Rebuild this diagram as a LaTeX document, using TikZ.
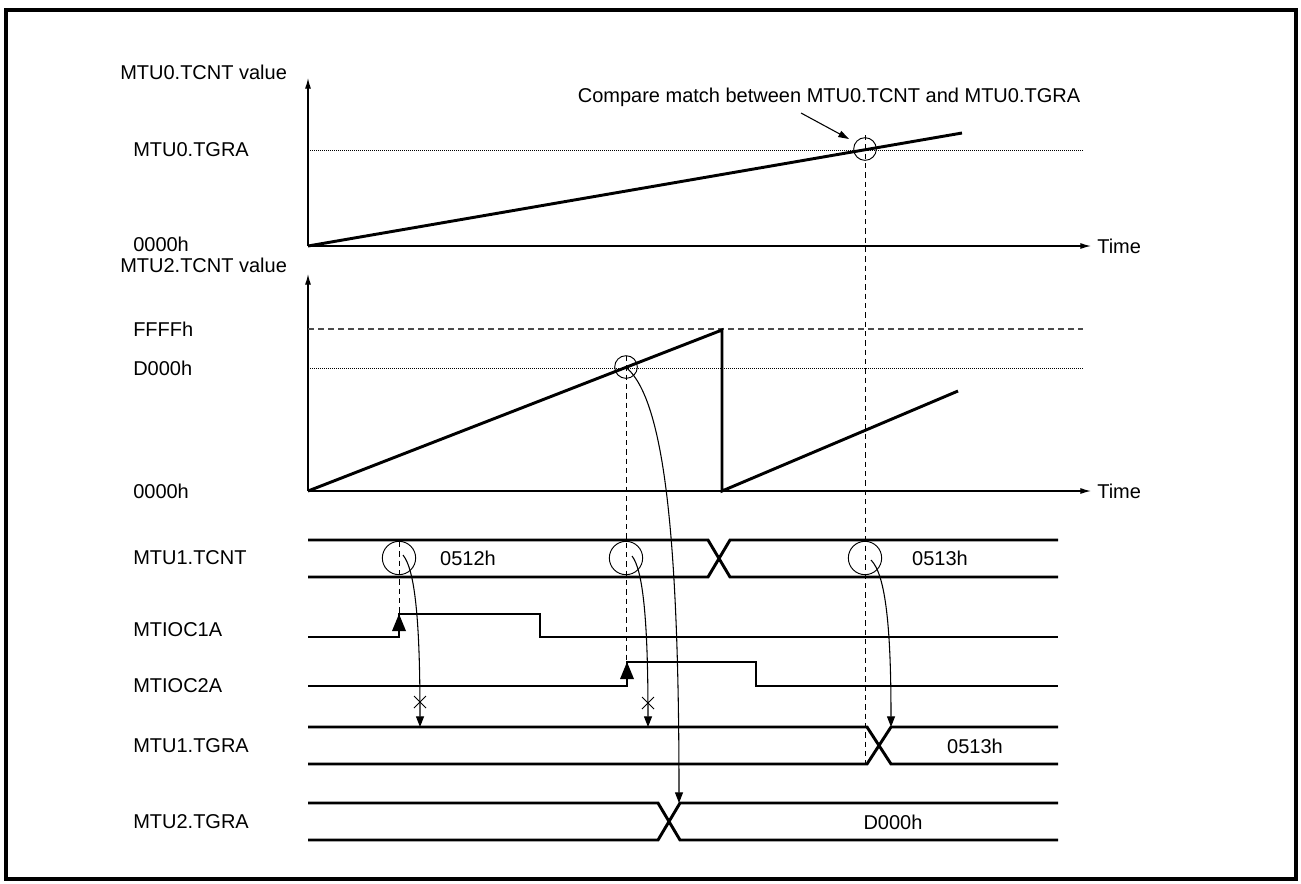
\documentclass[tikz,border=0pt]{standalone}
\usepackage{fontspec}
\setmainfont{Liberation Sans}
\usetikzlibrary{arrows.meta}
\begin{document}
\begin{tikzpicture}[x=0.75pt,y=-0.75pt,
  lbl/.style={anchor=west,inner sep=0pt,font=\fontsize{15}{18}\selectfont},
  val/.style={inner sep=0pt,font=\fontsize{15}{18}\selectfont},
  sig/.style={line width=2.2pt,line join=miter},
  axisline/.style={line width=0.9pt,-{Latex[length=8pt,width=4.5pt]}},
  dotline/.style={line width=0.7pt,dash pattern=on 0.7pt off 0.8pt},
  dashline/.style={line width=0.9pt,draw=black!70,dash pattern=on 4.5pt off 3pt},
  vdash/.style={line width=0.7pt,dash pattern=on 4pt off 3pt},
  ring/.style={draw,circle,line width=0.7pt,inner sep=0pt},
  flow/.style={line width=0.8pt,-{Triangle[length=8pt,width=6pt]}},
  xcross/.style={line width=0.7pt}
]
\useasboundingbox (0,0) rectangle (1301,883);
\draw[line width=2.4pt] (6,10) rectangle (1296,879);

% ---------- top chart ----------
\node[lbl] (l0v) at (120,72) {MTU0.TCNT value};
\node[lbl] (l0tgra) at (133,150) {MTU0.TGRA};
\node[lbl] (l0zero) at (133,244) {0000h};
\coordinate (o1) at (308,246);
\coordinate (y1) at (308,78);
\coordinate (t1) at (1091,246);
\draw[axisline] (o1) -- (y1);
\draw[axisline] (o1) -- (t1);
\node[lbl] (time1) at (1097,246) {Time};
\coordinate (g0a) at (308,150);
\coordinate (g0b) at (1083,150);
\draw[dotline] (g0a) -- (g0b);
\coordinate (r0end) at (962,133);
\draw[line width=2.2pt] (o1) -- (r0end);
\node[ring,minimum size=17pt] (cm0) at (865,149) {};
\coordinate (v0top) at (865,135);
\coordinate (v0bot) at (865,764);
\draw[vdash] (v0top) -- (v0bot);
\node[val] (cmp) at (829,97) {Compare match between MTU0.TCNT and MTU0.TGRA};
\coordinate (cmpA) at (801,113);
\coordinate (cmpB) at (849,139);
\draw[line width=0.8pt,-{Triangle[length=8pt,width=5pt]}] (cmpA) -- (cmpB);

% ---------- second chart ----------
\node[lbl] (l2v) at (120,265) {MTU2.TCNT value};
\node[lbl] (lffff) at (133,329) {FFFFh};
\node[lbl] (ld000) at (133,368) {D000h};
\node[lbl] (l2zero) at (133,491) {0000h};
\coordinate (o2) at (308,491);
\coordinate (y2) at (308,274);
\coordinate (t2) at (1091,491);
\draw[axisline] (o2) -- (y2);
\draw[axisline] (o2) -- (t2);
\node[lbl] (time2) at (1097,491) {Time};
\coordinate (gfa) at (308,329);
\coordinate (gfb) at (1083,329);
\draw[dashline] (gfa) -- (gfb);
\coordinate (gda) at (308,368);
\coordinate (gdb) at (1083,368);
\draw[dotline] (gda) -- (gdb);
\coordinate (s1) at (722,330);
\coordinate (s2) at (722,491);
\coordinate (s3) at (958,391);
\draw[line width=2.2pt,line join=miter] (o2) -- (s1) -- (s2) -- (s3);
\node[ring,minimum size=17pt] (cm2) at (626,367) {};
\coordinate (v2top) at (626,356);
\coordinate (v2bot) at (626,683);
\draw[vdash] (v2top) -- (v2bot);

% ---------- timing ----------
\node[lbl] (lt1) at (133,558) {MTU1.TCNT};
\node[lbl] (lio1) at (133,630) {MTIOC1A};
\node[lbl] (lio2) at (133,686) {MTIOC2A};
\node[lbl] (lg1) at (133,746) {MTU1.TGRA};
\node[lbl] (lg2) at (133,822) {MTU2.TGRA};

% MTU1.TCNT bus
\draw[sig] (308,540) -- (708,540) -- (730,577) -- (1058,577);
\draw[sig] (308,577) -- (708,577) -- (730,540) -- (1058,540);
\node[val] (v512) at (468,558) {0512h};
\node[val] (v513a) at (940,558) {0513h};
\node[ring,minimum size=25pt] (ca) at (399,558) {};
\node[ring,minimum size=25pt] (cb) at (626,558) {};
\node[ring,minimum size=25pt] (cc) at (865,558) {};

% MTIOC1A
\draw[sig] (308,637) -- (399,637) -- (399,614) -- (540,614) -- (540,637) -- (1058,637);
\fill (392,631) -- (406,631) -- (399,614) -- cycle;
\coordinate (vatop) at (399,542);
\coordinate (vabot) at (399,614);
\draw[vdash] (vatop) -- (vabot);

% MTIOC2A
\draw[sig] (308,686) -- (627,686) -- (627,662) -- (756,662) -- (756,686) -- (1058,686);
\fill (620,679) -- (634,679) -- (627,662) -- cycle;

% MTU1.TGRA bus
\draw[sig] (308,727) -- (867,727) -- (891,764) -- (1058,764);
\draw[sig] (308,764) -- (867,764) -- (891,727) -- (1058,727);
\node[val] (v513b) at (975,746) {0513h};

% MTU2.TGRA bus
\draw[sig] (308,803) -- (658,803) -- (680,840) -- (1058,840);
\draw[sig] (308,840) -- (658,840) -- (680,803) -- (1058,803);
\node[val] (vd000) at (893,822) {D000h};

% transfer arrows
\coordinate (fa0) at (403,555);
\coordinate (fa1) at (420,727);
\draw[flow] (fa0) .. controls (415,570) and (420,620) .. (fa1);
\coordinate (fb0) at (632,556);
\coordinate (fb1) at (648,727);
\draw[flow] (fb0) .. controls (643,570) and (648,620) .. (fb1);
\coordinate (fc0) at (627,368);
\coordinate (fc1) at (679,803);
\draw[flow] (fc0) .. controls (662,400) and (679,520) .. (fc1);
\coordinate (fd0) at (871,560);
\coordinate (fd1) at (891,727);
\draw[flow] (fd0) .. controls (886,575) and (891,630) .. (fd1);

% blocked marks
\draw[xcross] (414,696) -- (426,708) (414,708) -- (426,696);
\draw[xcross] (642,697) -- (654,709) (642,709) -- (654,697);
\end{tikzpicture}
\end{document}
